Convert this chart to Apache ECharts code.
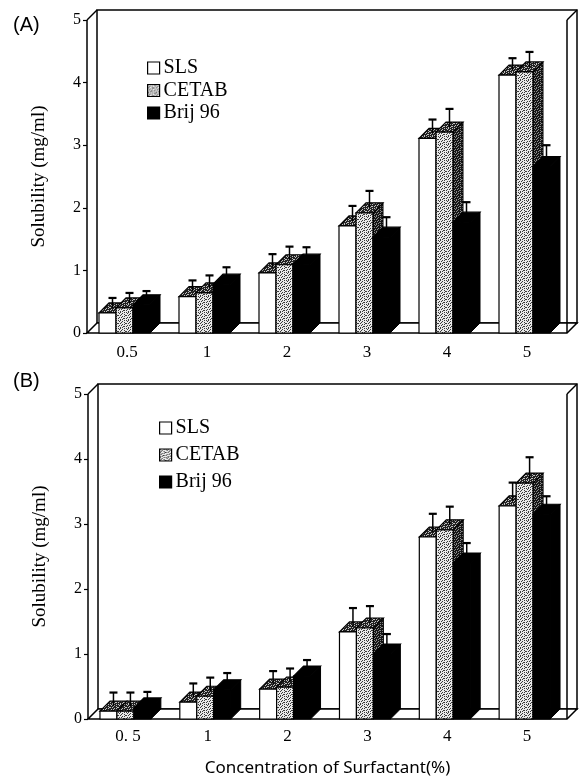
<!DOCTYPE html>
<html>
<head>
<meta charset="utf-8">
<script src="https://cdn.jsdelivr.net/npm/echarts@6/dist/echarts.min.js"></script>
<style>
  html, body { margin: 0; padding: 0; background: #fff; }
  #chart { width: 581px; height: 784px; }
</style>
</head>
<body>
<div id="chart"></div>
<script>
// panel (A)
var categoriesA = ['0.5', '1', '2', '3', '4', '5'];
var slsA   = [0.32, 0.58, 0.96, 1.71, 3.11, 4.12];
var cetabA = [0.40, 0.64, 1.09, 1.92, 3.21, 4.17];
var brijA  = [0.45, 0.78, 1.10, 1.53, 1.77, 2.66];
var slsErrA   = [0.16, 0.18, 0.22, 0.24, 0.22, 0.19];
var cetabErrA = [0.16, 0.20, 0.21, 0.27, 0.29, 0.24];
var brijErrA  = [0.14, 0.19, 0.19, 0.24, 0.24, 0.26];

// panel (B)
var categoriesB = ['0. 5', '1', '2', '3', '4', '5'];
var slsB   = [0.12, 0.26, 0.46, 1.34, 2.80, 3.28];
var cetabB = [0.12, 0.35, 0.49, 1.40, 2.91, 3.63];
var brijB  = [0.17, 0.45, 0.66, 1.00, 2.40, 3.15];
var slsErrB   = [0.21, 0.21, 0.20, 0.29, 0.28, 0.28];
var cetabErrB = [0.21, 0.21, 0.21, 0.26, 0.28, 0.32];
var brijErrB  = [0.17, 0.18, 0.17, 0.23, 0.23, 0.20];

var DX = 10, DY = -10; // depth of the 3d look
var serif = 'Liberation Serif';

// stipple fills from a small bitmap
var dotMap = [
  'x...x.x.',
  '..x....x',
  '.x..x...',
  'x....xx.',
  '..x.x...',
  '.x.....x',
  '...xx.x.',
  'x.x.....'
];
function stipple(bg, dot, invert) {
  var c = document.createElement('canvas');
  c.width = 8; c.height = 8;
  var ctx = c.getContext('2d');
  ctx.fillStyle = bg; ctx.fillRect(0, 0, 8, 8);
  ctx.fillStyle = dot;
  dotMap.forEach(function (row, y) {
    for (var x = 0; x < 8; x++) {
      var on = row[x] === 'x';
      if (on !== !!invert) ctx.fillRect(x, y, 1, 1);
    }
  });
  return { image: c, repeat: 'repeat' };
}
var lightDots = stipple('#e8e8e8', '#3a3a3a', false);
var topDots = stipple('#c0c0c0', '#222222', true);
var darkDots = stipple('#151515', '#8a8a8a', false);

// frame: open box with back wall, side walls and floor
function frameItem(params, api) {
  var cs = params.coordSys;
  var x0 = cs.x, x1 = cs.x + cs.width, yt = cs.y, yb = cs.y + cs.height;
  var ln = { stroke: '#000', lineWidth: 1.5 };
  return {
    type: 'group',
    children: [
      { type: 'rect', shape: { x: x0 + DX, y: yt + DY, width: cs.width, height: cs.height }, style: { fill: '#fff', stroke: '#000', lineWidth: 1.5 } },
      { type: 'polygon', shape: { points: [[x0, yb], [x1, yb], [x1 + DX, yb + DY], [x0 + DX, yb + DY]] }, style: { fill: '#fff', stroke: '#000', lineWidth: 1.5 } },
      { type: 'line', shape: { x1: x0, y1: yb, x2: x0, y2: yt }, style: ln },
      { type: 'line', shape: { x1: x0, y1: yt, x2: x0 + DX, y2: yt + DY }, style: ln },
      { type: 'line', shape: { x1: x1, y1: yb, x2: x1, y2: yt }, style: ln },
      { type: 'line', shape: { x1: x1, y1: yt, x2: x1 + DX, y2: yt + DY }, style: ln }
    ]
  };
}

// one 3d bar with its error bar
function barItem(offset, face, top, side) {
  return function (params, api) {
    var cat = api.value(0), val = api.value(1), err = api.value(2);
    var band = api.size([1, 0])[0];
    var base = api.coord([cat, 0]);
    var y0 = base[1];
    var y1 = api.coord([cat, val])[1];
    var eh = y1 - api.coord([cat, val + err])[1];
    var w = band * 0.2125;
    var x = base[0] + band * offset;
    var cx = x + w / 2 + DX / 2, cy = y1 + DY / 2;
    return {
      type: 'group',
      children: [
        { type: 'polygon', shape: { points: [[x + w, y0], [x + w + DX, y0 + DY], [x + w + DX, y1 + DY], [x + w, y1]] }, style: { fill: side, stroke: '#000', lineWidth: 1 } },
        { type: 'polygon', shape: { points: [[x, y1], [x + w, y1], [x + w + DX, y1 + DY], [x + DX, y1 + DY]] }, style: { fill: top, stroke: '#000', lineWidth: 1.2 } },
        { type: 'rect', shape: { x: x, y: y1, width: w, height: y0 - y1 }, style: { fill: face, stroke: '#000', lineWidth: 1.2 } },
        { type: 'line', shape: { x1: cx, y1: cy, x2: cx, y2: cy - eh }, style: { stroke: '#000', lineWidth: 1.5 } },
        { type: 'line', shape: { x1: cx - 4, y1: cy - eh, x2: cx + 4, y2: cy - eh }, style: { stroke: '#000', lineWidth: 2.2 } }
      ]
    };
  };
}

function rows(vals, errs) {
  return vals.map(function (v, i) { return [i, v, errs[i]]; });
}

function barSeries(name, idx, vals, errs, offset, face, top, side) {
  return {
    name: name, type: 'custom', xAxisIndex: idx, yAxisIndex: idx, z: 3,
    encode: { x: 0, y: 1 },
    itemStyle: { color: face === '#000' ? '#000' : '#fff' },
    renderItem: barItem(offset, face, top, side),
    data: rows(vals, errs)
  };
}

function legendFor(left, top, gap) {
  return {
    orient: 'vertical', left: left, top: top, itemGap: gap, itemWidth: 12, itemHeight: 12,
    icon: 'rect', selectedMode: false,
    textStyle: { fontFamily: serif, fontSize: 20, color: '#000', lineHeight: 20, padding: [0, 0, 0, -1] },
    data: [
      { name: 'SLS', itemStyle: { color: '#fff', borderColor: '#000', borderWidth: 1.2 } },
      { name: 'CETAB', itemStyle: { color: lightDots, borderColor: '#000', borderWidth: 1.2 } },
      { name: 'Brij 96', itemStyle: { color: '#000', borderColor: '#000', borderWidth: 1.2 } }
    ]
  };
}

function yAxisFor(idx) {
  return {
    type: 'value', gridIndex: idx, min: 0, max: 5, interval: 1,
    name: 'Solubility (mg/ml)', nameLocation: 'middle', nameGap: 38,
    nameTextStyle: { fontFamily: serif, fontSize: 19, color: '#000' },
    axisLine: { show: false },
    axisTick: { show: true, length: 4, lineStyle: { color: '#000', width: 1.2 } },
    axisLabel: { fontFamily: serif, fontSize: 16, color: '#000', margin: 6 },
    splitLine: { show: false }
  };
}

var chart = echarts.init(document.getElementById('chart'), null, { renderer: 'canvas' });

chart.setOption({
  animation: false,
  backgroundColor: '#fff',
  title: [
    { text: '(A)', left: 8, top: 10, textStyle: { fontFamily: 'Liberation Sans', fontSize: 20, fontWeight: 'normal', color: '#000' } },
    { text: '(B)', left: 8, top: 366, textStyle: { fontFamily: 'Liberation Sans', fontSize: 20, fontWeight: 'normal', color: '#000' } }
  ],
  legend: [legendFor(142, 53, 2.5), legendFor(154, 413, 7)],
  grid: [
    { left: 87, right: 14, top: 20, bottom: 451 },
    { left: 88, right: 14, top: 394, bottom: 65 }
  ],
  xAxis: [
    {
      type: 'category', gridIndex: 0, data: categoriesA,
      axisLine: { show: false }, axisTick: { show: false },
      axisLabel: { fontFamily: serif, fontSize: 17, color: '#000', margin: 11 }
    },
    {
      type: 'category', gridIndex: 1, data: categoriesB,
      axisLine: { show: false }, axisTick: { show: false },
      axisLabel: { fontFamily: serif, fontSize: 17, color: '#000', margin: 9 },
      name: 'Concentration of Surfactant(%)', nameLocation: 'middle', nameGap: 41,
      nameTextStyle: { fontFamily: 'Noto Sans', fontSize: 17, color: '#000' }
    }
  ],
  yAxis: [yAxisFor(0), yAxisFor(1)],
  series: [
    { type: 'custom', xAxisIndex: 0, yAxisIndex: 0, z: 1, renderItem: frameItem, data: [[0, 0]], silent: true },
    { type: 'custom', xAxisIndex: 1, yAxisIndex: 1, z: 1, renderItem: frameItem, data: [[0, 0]], silent: true },
    barSeries('SLS', 0, slsA, slsErrA, -0.35, '#fff', topDots, lightDots),
    barSeries('CETAB', 0, cetabA, cetabErrA, -0.1375, lightDots, topDots, darkDots),
    barSeries('Brij 96', 0, brijA, brijErrA, 0.075, '#000', '#000', '#000'),
    barSeries('SLS', 1, slsB, slsErrB, -0.35, '#fff', topDots, lightDots),
    barSeries('CETAB', 1, cetabB, cetabErrB, -0.1375, lightDots, topDots, darkDots),
    barSeries('Brij 96', 1, brijB, brijErrB, 0.075, '#000', '#000', '#000')
  ]
});
</script>
</body>
</html>
